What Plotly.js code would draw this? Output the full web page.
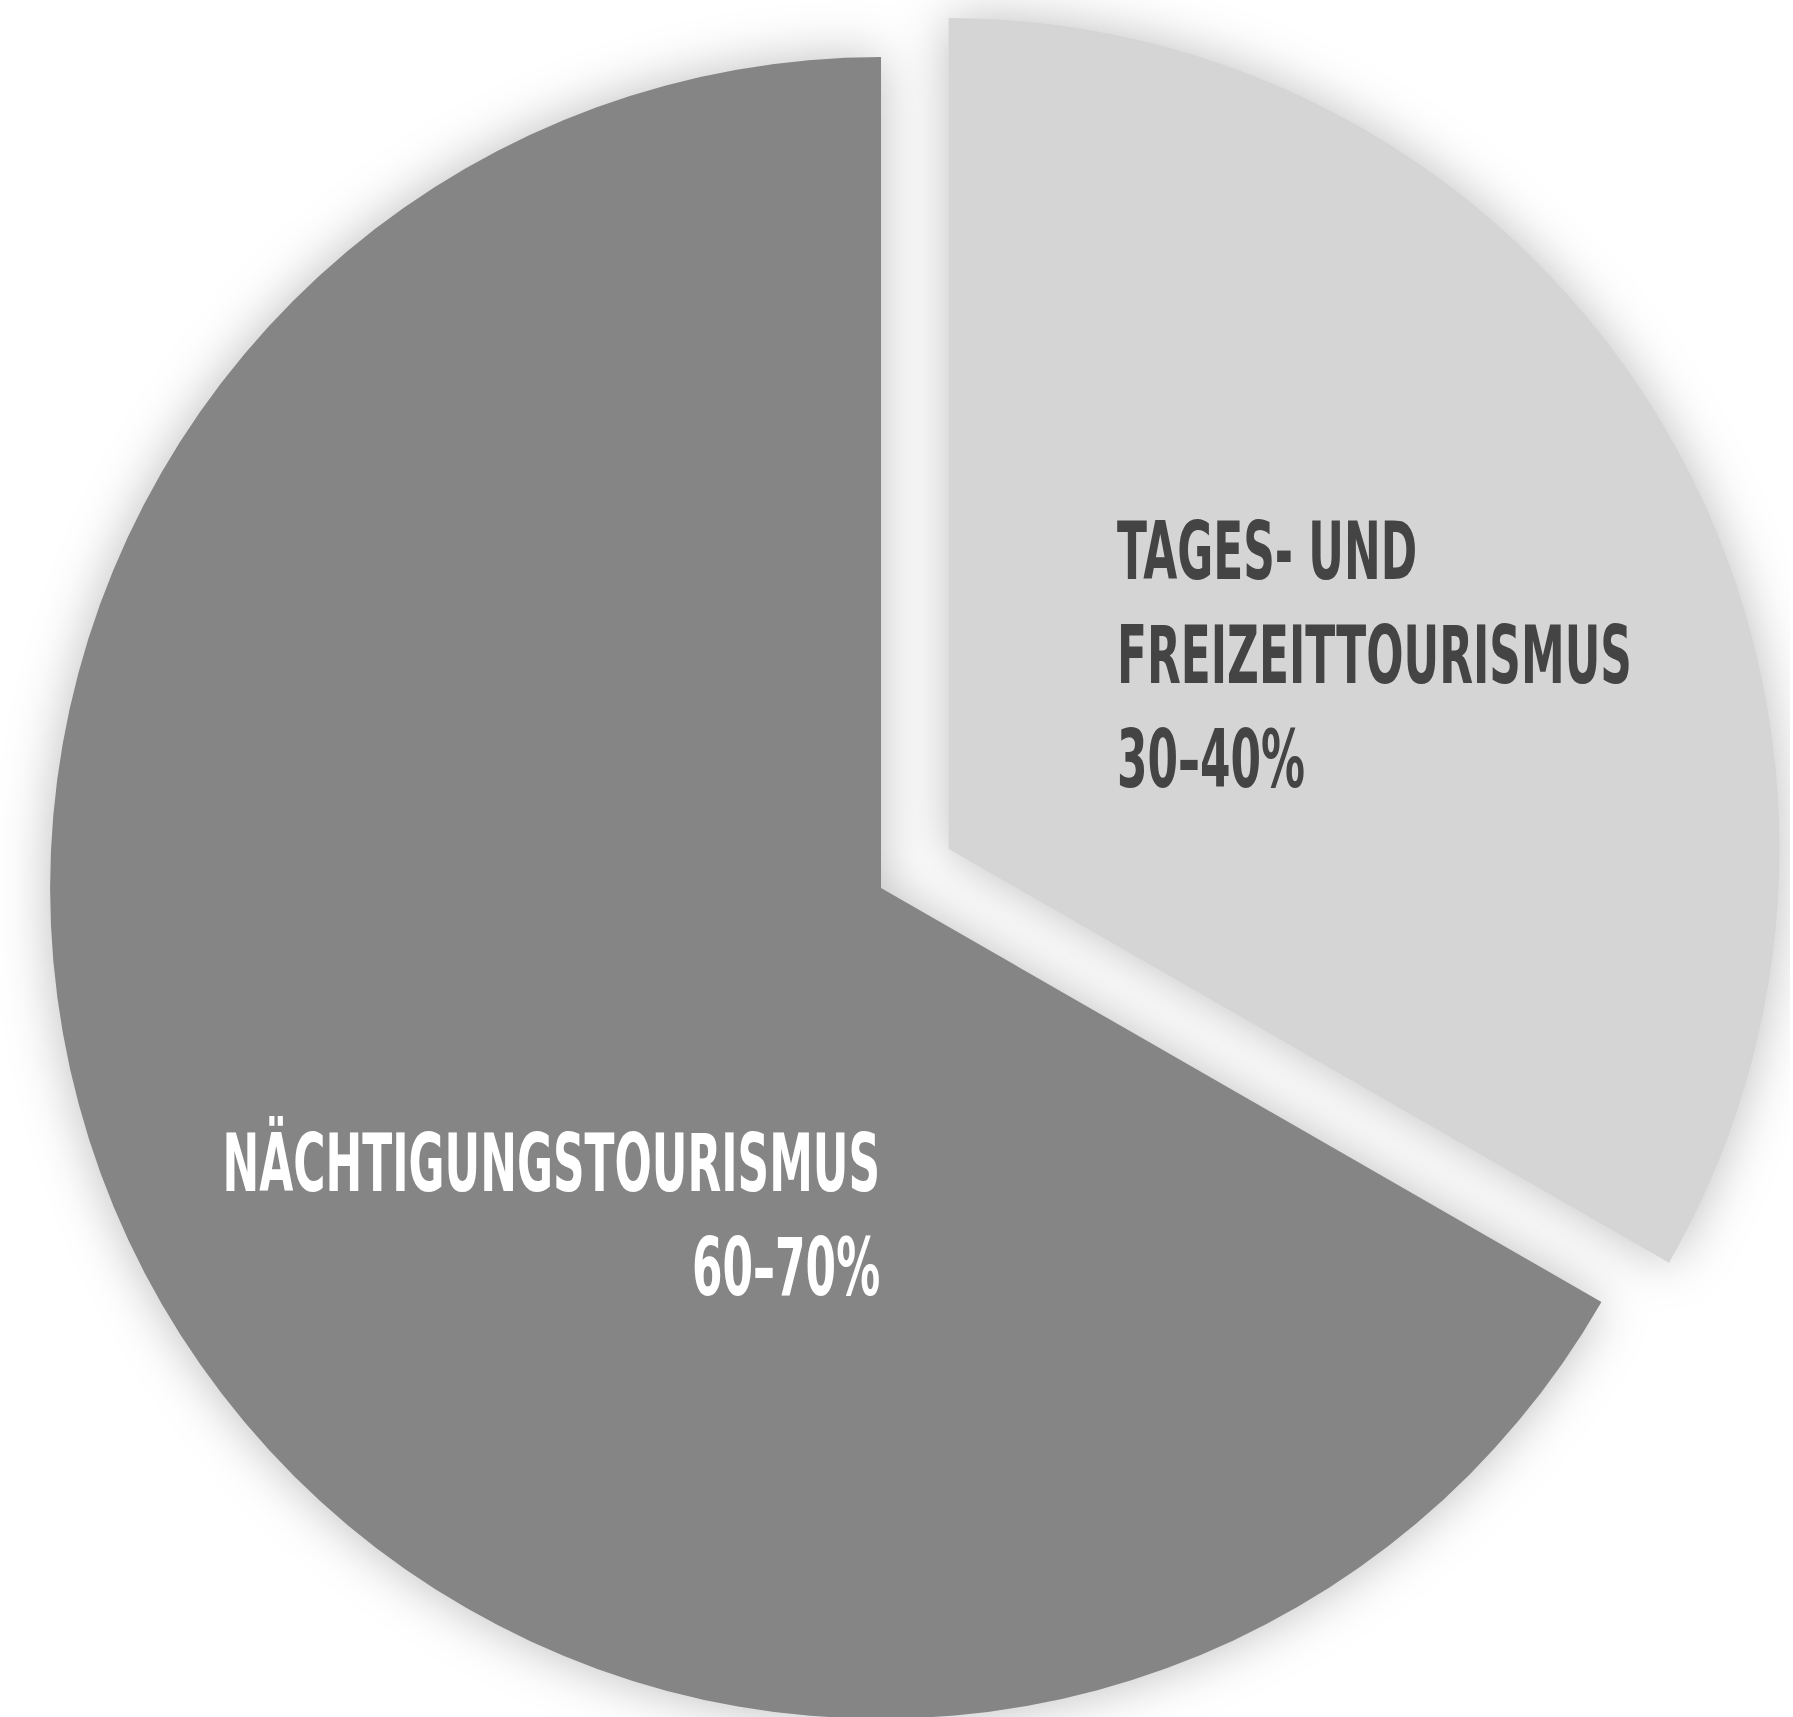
<!DOCTYPE html>
<html><head><meta charset="utf-8">
<script src="https://cdn.plot.ly/plotly-3.0.1.min.js"></script>
<style>
html,body{margin:0;padding:0;background:#fff;overflow:hidden;width:1793px;height:1717px;}
#chart{position:absolute;left:-28px;top:-21px;width:1818px;height:1818px;}
#chart .pielayer .trace{filter:drop-shadow(0 0 26px rgba(0,0,0,0.26));}
</style></head><body><div id="chart"></div>
<script>
const categories = ['Tages- und Freizeittourismus', 'Nächtigungstourismus'];
const shares = [33.3, 66.7];
const rangeLabels = ['30–40%', '60–70%'];
const labelLines = [['TAGES- UND', 'FREIZEITTOURISMUS'], ['NÄCHTIGUNGSTOURISMUS']];
const sliceColors = ['#d5d5d5', '#858585'];
const textColors = ['#444444', '#ffffff'];
const pulls = [0.094, 0];

const labelPos = [
  {x: 0.6287, y: 0.628, xanchor: 'left', align: 'left'},
  {x: 0.5006, y: 0.320, xanchor: 'right', align: 'right'}
];

const annotations = categories.map((c, i) => ({
  xref: 'paper', yref: 'paper',
  x: labelPos[i].x, y: labelPos[i].y,
  xanchor: labelPos[i].xanchor, yanchor: 'middle',
  align: labelPos[i].align,
  showarrow: false,
  text: labelLines[i].concat([rangeLabels[i]]).join('<br>'),
  font: {family: '"Liberation Sans Narrow", "DejaVu Sans Condensed", "Liberation Sans", sans-serif', size: 80, weight: 'bold', color: textColors[i]}
}));

const trace = {
  type: 'pie',
  labels: categories,
  values: shares,
  sort: false,
  direction: 'clockwise',
  rotation: 0,
  pull: pulls,
  marker: {colors: sliceColors, line: {width: 0}},
  textinfo: 'none',
  hoverinfo: 'label+percent',
  showlegend: false,
  domain: {x: [0, 1], y: [0, 1]}
};

const layout = {
  width: 1818, height: 1818,
  margin: {l: 0, r: 0, t: 0, b: 0},
  paper_bgcolor: 'rgba(0,0,0,0)',
  plot_bgcolor: 'rgba(0,0,0,0)',
  showlegend: false,
  annotations: annotations
};

Plotly.newPlot('chart', [trace], layout, {displayModeBar: false, staticPlot: true}).then(gd => {
  gd.querySelectorAll('.annotation-text').forEach((t, i) => {
    t.style.transformBox = 'fill-box';
    t.style.transformOrigin = (labelPos[i].align === 'left' ? '0% 50%' : '100% 50%');
    t.style.transform = 'scaleX(0.61)';
  });
});
</script>
</body></html>
